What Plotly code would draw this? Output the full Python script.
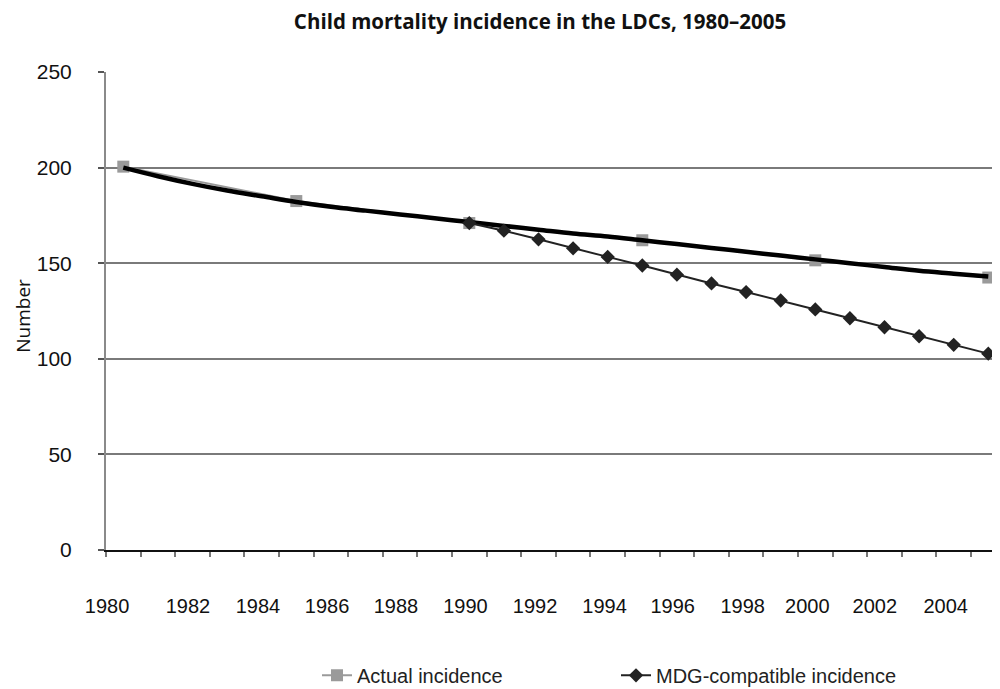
import plotly.graph_objects as go

# ---------------- data ----------------
years = list(range(1980, 2006))

actual_years = [1980, 1985, 1990, 1995, 2000, 2005]
actual_values = [200.5, 182.5, 171.0, 162.0, 151.5, 142.5]

# smoothed path of actual incidence (thick black line), read per year
trend_values = [200.0, 195.5, 191.5, 188.0, 185.0, 182.0, 179.5, 177.5, 175.5, 173.5,
                171.5, 169.5, 167.5, 165.5, 164.0, 162.0, 160.0, 158.0, 156.0, 154.0,
                152.0, 150.0, 148.0, 146.0, 144.5, 143.0]

mdg_years = list(range(1990, 2006))
mdg_values = [171.0, 167.0, 162.5, 157.8, 153.3, 148.8, 144.0, 139.4, 134.9, 130.5,
              125.8, 121.2, 116.5, 111.8, 107.3, 102.7]

tick_labels = ["1980", "1982", "1984", "1986", "1988", "1990", "1992",
               "1994", "1996", "1998", "2000", "2002", "2004"]
tick_years = [1980, 1982, 1984, 1986, 1988, 1990, 1992, 1994, 1996, 1998, 2000, 2002, 2004]

title_text = "Child mortality incidence in the LDCs, 1980\u20132005"
y_title = "Number"
actual_name = "Actual incidence"
mdg_name = "MDG-compatible incidence"

# ---------------- styling ----------------
label_shift = [-0.47, -0.13, -0.11, -0.11, -0.12, -0.11, -0.10,
               -0.09, -0.12, -0.10, -0.23, -0.28, -0.23]
tickvals = [y + s for y, s in zip(tick_years, label_shift)]

OFF = 8  # page body margin offset
W, H = 1000 - OFF, 710
L, T = 106 - OFF, 72 - OFF
B = H - (550.5 - OFF)
PW = W - L
PH = H - T - B

fig = go.Figure()

fig.add_trace(go.Scatter(
    x=actual_years, y=actual_values, name=actual_name, mode="lines+markers",
    line=dict(color="#9a9a9a", width=2),
    marker=dict(symbol="square", size=12, color="#9a9a9a"),
    legend="legend",
))

fig.add_trace(go.Scatter(
    x=years, y=trend_values, mode="lines", showlegend=False,
    line=dict(color="#000000", width=4.5, shape="spline"),
    hoverinfo="skip",
))

fig.add_trace(go.Scatter(
    x=mdg_years, y=mdg_values, name=mdg_name, mode="lines+markers",
    line=dict(color="#222222", width=2),
    marker=dict(symbol="diamond", size=11, color="#222222"),
    legend="legend2",
))

leg_y = -(676 - 550.5) / PH

fig.update_layout(
    width=W, height=H,
    margin=dict(l=L, r=0, t=T, b=B),
    paper_bgcolor="white", plot_bgcolor="white",
    font=dict(family="Liberation Sans, Arial, sans-serif", color="#111111"),
    title=dict(text="<b>" + title_text + "</b>", x=(540 - OFF) / W, xanchor="center",
               y=1 - (22 - OFF) / H, yanchor="middle",
               font=dict(family="Open Sans, sans-serif", size=20.5, color="#111111")),
    xaxis=dict(
        range=[1979.5, 1979.5 + PW / 34.6], showgrid=False, zeroline=False,
        showline=True, linecolor="#111111", linewidth=1.5,
        tickmode="array", tickvals=tickvals, ticktext=tick_labels,
        ticks="", ticklabelstandoff=37,
        tickfont=dict(family="Liberation Sans, Arial, sans-serif", size=20, color="#111111"),
        minor=dict(tick0=1979.5, dtick=1, ticks="outside", ticklen=5,
                   tickcolor="#777777", tickwidth=1.5, showgrid=False),
    ),
    yaxis=dict(
        range=[0, 250], dtick=50, showgrid=True, gridcolor="#7a7a7a", gridwidth=1.5,
        zeroline=False, showline=True, linecolor="#8a8a8a", linewidth=2,
        ticks="outside", ticklen=6, tickcolor="#555555", tickwidth=1.5,
        ticklabelstandoff=22,
        tickfont=dict(family="Liberation Sans, Arial, sans-serif", size=21, color="#111111"),
    ),
    legend=dict(x=(317 - 106) / PW, y=leg_y, xanchor="left", yanchor="middle",
                orientation="h", bgcolor="rgba(0,0,0,0)",
                font=dict(family="Liberation Sans, Arial, sans-serif", size=20, color="#222222")),
    legend2=dict(x=(616 - 106) / PW, y=leg_y, xanchor="left", yanchor="middle",
                 orientation="h", bgcolor="rgba(0,0,0,0)",
                 font=dict(family="Liberation Sans, Arial, sans-serif", size=20, color="#222222")),
    annotations=[dict(
        text=y_title, xref="paper", yref="paper",
        x=-L / PW, y=(550.5 - 316) / PH, xanchor="left", yanchor="middle",
        textangle=-90, showarrow=False,
        font=dict(family="Open Sans, sans-serif", size=19, color="#111111"),
    )],
)

fig.write_html("out.html")
